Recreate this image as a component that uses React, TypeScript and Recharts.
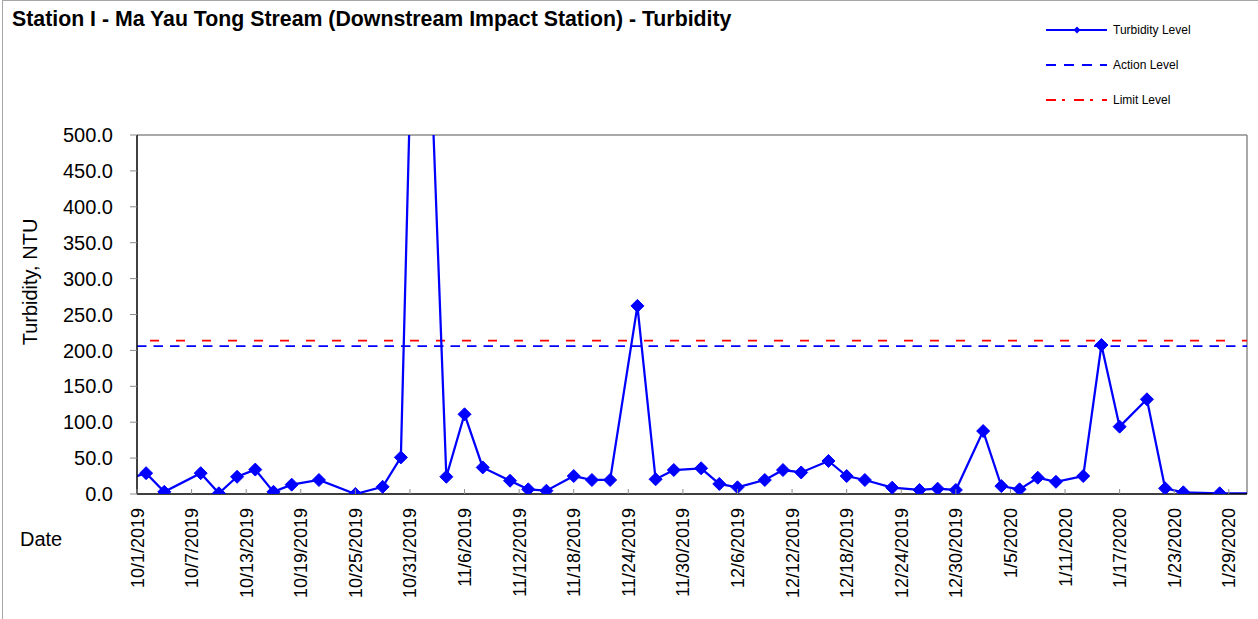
import { LineChart, Line, XAxis, YAxis, ReferenceLine } from 'recharts';

const FONT = '"Liberation Sans", Arial, sans-serif';

// sampling dates (first and last fall just outside the axis range, so the line runs off the plot)
const sampleDates = [
  '2019-09-30', '2019-10-02', '2019-10-04', '2019-10-08', '2019-10-10', '2019-10-12', '2019-10-14',
  '2019-10-16', '2019-10-18', '2019-10-21', '2019-10-25', '2019-10-28', '2019-10-30', '2019-11-01',
  '2019-11-04', '2019-11-06', '2019-11-08', '2019-11-11', '2019-11-13', '2019-11-15', '2019-11-18',
  '2019-11-20', '2019-11-22', '2019-11-25', '2019-11-27', '2019-11-29', '2019-12-02', '2019-12-04',
  '2019-12-06', '2019-12-09', '2019-12-11', '2019-12-13', '2019-12-16', '2019-12-18', '2019-12-20',
  '2019-12-23', '2019-12-26', '2019-12-28', '2019-12-30', '2020-01-02', '2020-01-04', '2020-01-06',
  '2020-01-08', '2020-01-10', '2020-01-13', '2020-01-15', '2020-01-17', '2020-01-20', '2020-01-22',
  '2020-01-24', '2020-01-28', '2020-02-03',
];

const turbidity = [
  21, 29, 3, 29, 1, 24, 34,
  3, 13, 19.5, 0, 10, 51, 1040,
  24, 111, 37, 18.5, 6.5, 4.6, 25,
  19.5, 19.5, 262, 20.5, 33.4, 35.8, 14,
  9.3, 19.5, 33.4, 30, 46, 25, 19.5,
  8.8, 5.6, 7.4, 5.6, 87.7, 11, 6.5,
  22.7, 17, 25, 207.5, 93.8, 131.9, 7.9,
  2.3, 1, 0.8,
];

const tickDates = [
  '2019-10-01', '2019-10-07', '2019-10-13', '2019-10-19', '2019-10-25', '2019-10-31', '2019-11-06',
  '2019-11-12', '2019-11-18', '2019-11-24', '2019-11-30', '2019-12-06', '2019-12-12', '2019-12-18',
  '2019-12-24', '2019-12-30', '2020-01-05', '2020-01-11', '2020-01-17', '2020-01-23', '2020-01-29',
];

const yTicks = [0, 50, 100, 150, 200, 250, 300, 350, 400, 450, 500];

const ACTION_LEVEL = 206.0;
const LIMIT_LEVEL = 213.5;
const AXIS_START = '2019-10-01';
const AXIS_END = '2020-01-31';

const legendItems = [
  { name: 'Turbidity Level', color: '#0000ff', dash: '', marker: true },
  { name: 'Action Level', color: '#0000ff', dash: '10 8', marker: false },
  { name: 'Limit Level', color: '#ff0000', dash: '10 6 3 9', marker: false },
];

const dayNum = (s: string) => {
  const [y, m, d] = s.split('-').map(Number);
  return Date.UTC(y, m - 1, d) / 86400000;
};

const fmtDate = (n: number) => {
  const d = new Date(n * 86400000);
  return `${d.getUTCMonth() + 1}/${d.getUTCDate()}/${d.getUTCFullYear()}`;
};

const data = sampleDates.map((d, i) => ({ day: dayNum(d), value: turbidity[i] }));

const TICK_MARGIN = 14;

const DateTick = (props: any) => {
  const { x, y, payload } = props;
  const axisY = y - TICK_MARGIN;
  return (
    <g>
      <line x1={x} x2={x} y1={axisY} y2={axisY - 5} stroke="#8c8c8c" strokeWidth={1} />
      <text
        transform={`translate(${x + 6.5},${y}) rotate(-90)`}
        textAnchor="end"
        fontSize={18}
        fontFamily={FONT}
        fill="#000"
      >
        {fmtDate(payload.value)}
      </text>
    </g>
  );
};

const Diamond = (props: any) => {
  const { cx, cy, index } = props;
  if (cx == null || cy == null) return <g key={index} />;
  const r = 6.5;
  return (
    <path
      key={index}
      d={`M${cx},${cy - r}L${cx + r},${cy}L${cx},${cy + r}L${cx - r},${cy}Z`}
      fill="#0000ff"
      stroke="#0000ff"
      strokeWidth={1}
    />
  );
};

const LegendBox = () => (
  <div style={{ position: 'absolute', left: 1045, top: 12, fontFamily: FONT }}>
    {legendItems.map((it) => (
      <div key={it.name} style={{ display: 'flex', alignItems: 'center', height: 35 }}>
        <svg width={68} height={12} style={{ display: 'block' }}>
          <line x1={1} x2={62} y1={6} y2={6} stroke={it.color} strokeWidth={2} strokeDasharray={it.dash || undefined} />
          {it.marker && <path d="M32,2.5L35.5,6L32,9.5L28.5,6Z" fill={it.color} />}
        </svg>
        <span style={{ fontSize: 12, color: '#000' }}>{it.name}</span>
      </div>
    ))}
  </div>
);

export default function App() {
  return (
    <div style={{ position: 'absolute', left: 0, top: 0, width: 1258, height: 619, background: '#fff', overflow: 'hidden' }}>
      <div style={{ position: 'absolute', left: 2, top: 0, width: 1300, height: 700, borderLeft: '1px solid #a6a6a6', borderTop: '1px solid #a6a6a6' }} />
      <div style={{ position: 'absolute', left: 12, top: 7, fontFamily: FONT, fontWeight: 'bold', fontSize: 21.3, color: '#000', whiteSpace: 'nowrap' }}>
        Station I - Ma Yau Tong Stream (Downstream Impact Station) - Turbidity
      </div>
      <div style={{ position: 'absolute', left: 30, top: 282, transform: 'translate(-50%, -50%) rotate(-90deg)', fontFamily: FONT, fontSize: 20, color: '#000', whiteSpace: 'nowrap' }}>
        Turbidity, NTU
      </div>
      <div style={{ position: 'absolute', left: 20, top: 528, fontFamily: FONT, fontSize: 20, color: '#000' }}>Date</div>
      <LegendBox />
      <LineChart width={1258} height={619} data={data} margin={{ top: 135, right: 11, bottom: 15, left: 57 }}>
        <XAxis
          type="number"
          dataKey="day"
          domain={[dayNum(AXIS_START), dayNum(AXIS_END)]}
          ticks={tickDates.map(dayNum)}
          interval={0}
          allowDataOverflow
          height={110}
          tickLine={false}
          tickSize={0}
          tickMargin={TICK_MARGIN}
          axisLine={{ stroke: '#000', strokeWidth: 1.5 }}
          tick={<DateTick />}
        />
        <YAxis
          domain={[0, 500]}
          ticks={yTicks}
          interval={0}
          allowDataOverflow
          width={80}
          tickSize={7}
          tickMargin={17}
          tickFormatter={(v: number) => v.toFixed(1)}
          tick={{ fill: '#000', fontSize: 20, fontFamily: FONT }}
          tickLine={{ stroke: '#8c8c8c' }}
          axisLine={{ stroke: '#000', strokeWidth: 1.5 }}
        />
        <ReferenceLine y={500} stroke="#8c8c8c" strokeWidth={1.5} />
        <ReferenceLine x={dayNum(AXIS_END)} stroke="#8c8c8c" strokeWidth={1.5} />
        <ReferenceLine y={LIMIT_LEVEL} stroke="#ff0000" strokeWidth={1.8} strokeDasharray="9 17" strokeDashoffset={13} />
        <ReferenceLine y={ACTION_LEVEL} stroke="#0000ff" strokeWidth={1.8} strokeDasharray="9.5 7" />
        <Line
          type="linear"
          dataKey="value"
          stroke="#0000ff"
          strokeWidth={2.25}
          dot={Diamond}
          activeDot={false}
          isAnimationActive={false}
        />
      </LineChart>
    </div>
  );
}
